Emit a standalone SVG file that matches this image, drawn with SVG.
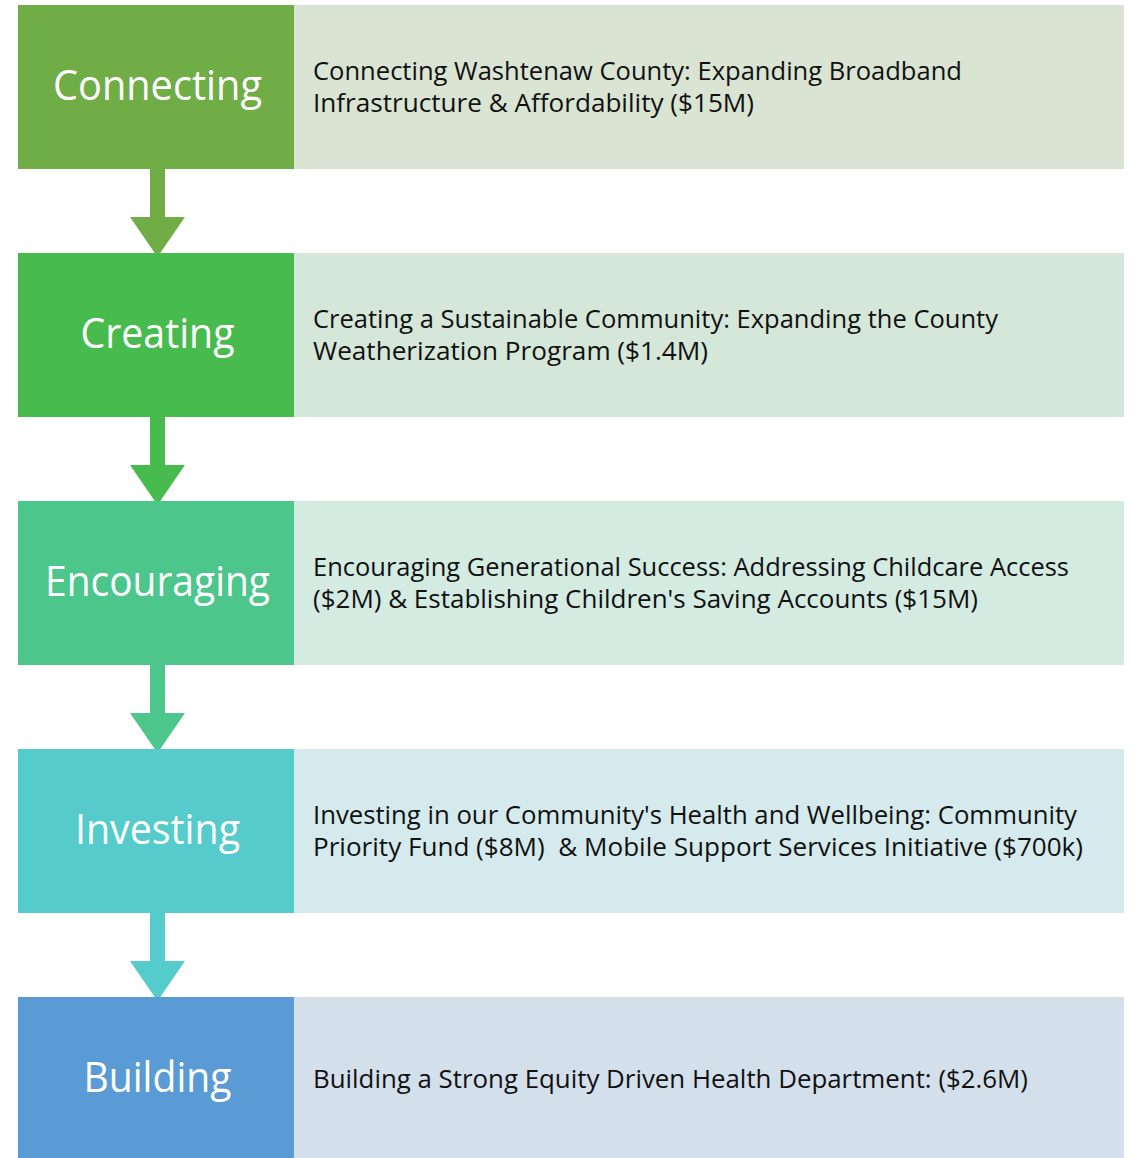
<svg xmlns="http://www.w3.org/2000/svg" width="1135" height="1158" viewBox="0 0 1135 1158">
<style>
.lbl{font-family:"Open Sans","Noto Sans",sans-serif;font-size:42px;fill:#fff;text-anchor:middle}
.txt{font-family:"Open Sans","Noto Sans",sans-serif;font-size:25px;fill:#111}
</style>
<rect width="1135" height="1158" fill="#fff"/>
<g id="connectors">
<path d="M150 169H165V217H185L157.5 257L130 217H150Z" fill="#70AD47"/>
<path d="M150 417H165V465H185L157.5 505L130 465H150Z" fill="#48BB4F"/>
<path d="M150 665H165V713H185L157.5 753L130 713H150Z" fill="#4DC68C"/>
<path d="M150 913H165V961H185L157.5 1001L130 961H150Z" fill="#55CBCB"/>
</g>
<g id="connecting">
<rect x="294" y="5" width="830" height="164" fill="#D9E4D3"/>
<rect x="18" y="5" width="276" height="164" fill="#70AD47"/>
<text class="lbl" x="157.5" y="100" textLength="209" lengthAdjust="spacingAndGlyphs">Connecting</text>
<text class="txt" x="313" y="80" textLength="649" lengthAdjust="spacingAndGlyphs">Connecting Washtenaw County: Expanding Broadband</text>
<text class="txt" x="313" y="112" textLength="441" lengthAdjust="spacingAndGlyphs">Infrastructure &amp; Affordability ($15M)</text>
</g>
<g id="creating">
<rect x="294" y="253" width="830" height="164" fill="#D5E7D8"/>
<rect x="18" y="253" width="276" height="164" fill="#48BB4F"/>
<text class="lbl" x="157.5" y="348" textLength="154" lengthAdjust="spacingAndGlyphs">Creating</text>
<text class="txt" x="313" y="328" textLength="685" lengthAdjust="spacingAndGlyphs">Creating a Sustainable Community: Expanding the County</text>
<text class="txt" x="313" y="360" textLength="395" lengthAdjust="spacingAndGlyphs">Weatherization Program ($1.4M)</text>
</g>
<g id="encouraging">
<rect x="294" y="501" width="830" height="164" fill="#D4EBE2"/>
<rect x="18" y="501" width="276" height="164" fill="#4DC68C"/>
<text class="lbl" x="157.5" y="596" textLength="225" lengthAdjust="spacingAndGlyphs">Encouraging</text>
<text class="txt" x="313" y="576" textLength="756" lengthAdjust="spacingAndGlyphs">Encouraging Generational Success: Addressing Childcare Access</text>
<text class="txt" x="313" y="608" textLength="665" lengthAdjust="spacingAndGlyphs">($2M) &amp; Establishing Children's Saving Accounts ($15M)</text>
</g>
<g id="investing">
<rect x="294" y="749" width="830" height="164" fill="#D4EAEC"/>
<rect x="18" y="749" width="276" height="164" fill="#55CBCB"/>
<text class="lbl" x="157.5" y="844" textLength="165" lengthAdjust="spacingAndGlyphs">Investing</text>
<text class="txt" x="313" y="824" textLength="764" lengthAdjust="spacingAndGlyphs">Investing in our Community's Health and Wellbeing: Community</text>
<text class="txt" x="313" y="856" textLength="770" lengthAdjust="spacingAndGlyphs" xml:space="preserve">Priority Fund ($8M)  &amp; Mobile Support Services Initiative ($700k)</text>
</g>
<g id="building">
<rect x="294" y="997" width="830" height="161" fill="#D4DFEC"/>
<rect x="18" y="997" width="276" height="161" fill="#5B9BD5"/>
<text class="lbl" x="157.5" y="1092" textLength="148" lengthAdjust="spacingAndGlyphs">Building</text>
<text class="txt" x="313" y="1088" textLength="715" lengthAdjust="spacingAndGlyphs">Building a Strong Equity Driven Health Department: ($2.6M)</text>
</g>
</svg>
